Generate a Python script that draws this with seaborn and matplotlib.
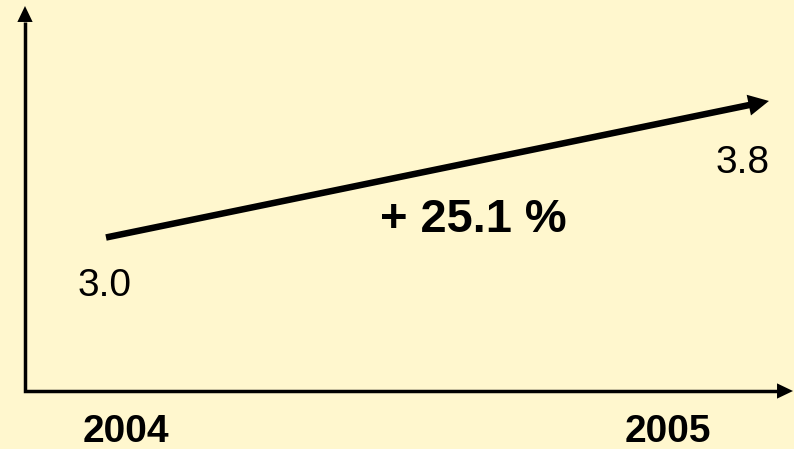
import numpy as np
import pandas as pd
import matplotlib
matplotlib.use("Agg")
import matplotlib.pyplot as plt
import seaborn as sns

# Values shown on the chart
years = [2004, 2005]
values = [3.0, 3.8]
growth_pct = 25.1
year_labels = ["2004", "2005"]

BG = "#FFF7CE"
INK = "black"

sns.set_style("white")
plt.rcParams["font.family"] = ["Liberation Sans", "DejaVu Sans"]

fig = plt.figure(figsize=(7.94, 4.49), dpi=100, facecolor=BG)
W, H = 794, 449
# axes box: origin of the arrowed axes at (25, 391) px, tips at x=793 and y=6
ax = fig.add_axes([25 / W, 58 / H, 768 / W, 385 / H])
ax.set_facecolor(BG)

df = pd.DataFrame({"year": years, "value": values})
sns.lineplot(data=df, x="year", y="value", ax=ax, color=INK, linewidth=4.7,
             solid_capstyle="butt", legend=False)

ax.set_xlim(2003.87654, 2005.04710)
ax.set_ylim(2.09118, 4.37063)
ax.set_axis_off()

# arrowed axes: one polyline for both axis lines, plus filled heads
head_y = 16 / 385
head_x = 16 / 768
ax.plot([0, 0, 1 - head_x], [1 - head_y, 0, 0], transform=ax.transAxes,
        color=INK, lw=2.5, solid_joinstyle="miter", solid_capstyle="butt",
        clip_on=False)
axis_head = dict(arrowstyle="-|>,head_length=11.5,head_width=5.5",
                 mutation_scale=1, lw=0, fc=INK, ec=INK, shrinkA=0, shrinkB=0)
ax.annotate("", xy=(0, 1), xytext=(0, 0.5), xycoords="axes fraction",
            arrowprops=axis_head, annotation_clip=False)
ax.annotate("", xy=(1, 0), xytext=(0.5, 0), xycoords="axes fraction",
            arrowprops=axis_head, annotation_clip=False)

# arrowhead at the end of the trend line, tip a little beyond the last point
p0 = ax.transData.transform((years[0], values[0]))
p1 = ax.transData.transform((years[-1], values[-1]))
u = (p1 - p0) / np.hypot(*(p1 - p0))
tip = ax.transData.inverted().transform(p1 + 7 * u)
ax.annotate("", xy=tip, xytext=(years[0], values[0]),
            arrowprops=dict(arrowstyle="-|>,head_length=14.8,head_width=7.6",
                            mutation_scale=1, lw=0, fc=INK, ec=INK,
                            shrinkA=0, shrinkB=0),
            annotation_clip=False)

# value labels below each point
value_offsets = [(-1, -59), (-19, -70.6)]
for yr, v, off in zip(years, values, value_offsets):
    ax.annotate(f"{v:.1f}", xy=(yr, v), xytext=off, textcoords="offset pixels",
                ha="center", va="baseline", fontsize=28, color=INK)

# growth label
fig.text(473 / W, (H - 232.5) / H, f"+ {growth_pct:.1f} %", ha="center",
         va="baseline", fontsize=33.8, fontweight="bold", color=INK)

# year labels under the horizontal axis
year_offsets = [19.5, -94.5]
for yr, lab, dx in zip(years, year_labels, year_offsets):
    ax.annotate(lab, xy=(yr, ax.get_ylim()[0]), xytext=(dx, -51),
                textcoords="offset pixels", ha="center", va="baseline",
                fontsize=28, fontweight="bold", color=INK,
                annotation_clip=False)

fig.savefig("out.png", dpi=100, facecolor=BG)
